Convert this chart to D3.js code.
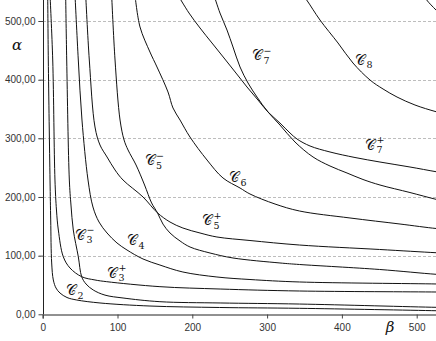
<!DOCTYPE html>
<html><head><meta charset="utf-8">
<script src="https://cdn.jsdelivr.net/npm/d3@7"></script>
<style>
html,body{margin:0;padding:0;background:#fff;}
svg{display:block;}
</style></head>
<body>
<script>
// ---- data (β, α) ----
const xTicks = [0, 100, 200, 300, 400, 500];
const yTicks = [0, 100, 200, 300, 400, 500];

const c2 = [[6.7,544],[7.5,433.5],[9.8,228.9],[10.7,160.8],[12.0,87.5],[14.2,58.5],[17.8,44.8],[23.1,36.3],[32.5,28.6],[45.5,24.4],[76.6,19.3],[143.4,14.1],[236.3,11.6],[343.3,10.2],[525.8,6.1],[544.6,5.6]];
const c3p = [[9.8,544],[13.4,433.5],[16.4,228.9],[18.4,177.8],[20.9,143.7],[27.5,98.2],[36.5,78.9],[52.1,64.1],[69.9,58.5],[85.6,55.6],[156.7,47.1],[237.2,43.1],[343.3,39.7],[525.8,38.0],[544.6,37.7]];
const c3m = [[30.7,544],[32.1,433.5],[35.6,228.9],[37.8,186.3],[40.9,143.7],[47.6,98.2],[52.1,64.1],[57.9,51.7],[67.6,41.4],[83.3,32.7],[107.4,27.8],[156.7,21.5],[237.2,19.3],[343.3,17.5],[525.8,11.9],[544.6,11.6]];
const c4 = [[43.2,544],[47.6,433.5],[52.5,331.2],[60.6,228.9],[67.2,182.9],[75.3,157.3],[86.0,138.6],[99.3,121.6],[112.7,109.6],[134.1,94.3],[156.7,84.0],[187.4,72.1],[232.9,63.6],[277.1,59.3],[343.3,55.1],[525.8,51.7],[544.6,51.1]];
const c5p = [[57.5,544],[62.3,433.5],[69.9,319.3],[76.6,288.6],[86.0,268.2],[96.7,246.0],[107.4,228.9],[134.1,200.0],[153.5,172.9],[170.2,157.3],[187.4,147.1],[210.3,138.6],[232.9,131.8],[277.1,125.8],[343.3,118.1],[450.3,110.5],[525.8,105.0],[544.6,104.0]];
const c5m = [[92.2,544],[96.7,433.5],[103.4,331.2],[108.8,297.1],[114.1,280.1],[124.8,254.5],[136.2,220.4],[145.6,189.8],[153.5,172.9],[160.8,153.8],[170.2,138.6],[183.6,125.0],[197.0,114.7],[223.7,104.5],[254.4,96.0],[317.2,87.5],[343.3,84.9],[450.3,76.4],[525.8,68.2],[544.6,67.0]];
const c6 = [[123.4,544],[130.1,489.8],[143.4,447.1],[152.8,421.6],[167.5,379.0],[174.2,351.7],[183.6,331.2],[196.9,302.2],[219.7,263.0],[241.0,232.4],[263.8,215.3],[277.1,205.1],[310.6,188.0],[343.3,176.1],[410.8,164.2],[477.7,153.9],[525.8,146.3],[544.6,144.6]];
const c7p = [[180.9,544],[195.6,513.6],[210.3,488.1],[226.3,462.5],[242.4,436.9],[258.4,411.3],[273.1,387.5],[287.8,365.3],[301.2,344.9],[317.2,326.1],[330.6,309.1],[340.0,298.8],[357.4,286.9],[384.1,276.7],[417.5,267.3],[450.9,259.6],[491.0,251.1],[525.8,243.1],[544.6,239.2]];
const c7m = [[229.0,544],[237.0,513.6],[246.4,484.6],[254.4,455.7],[263.8,421.6],[274.5,394.3],[286.5,370.4],[301.2,344.9],[317.2,322.7],[337.3,293.7],[361.4,268.2],[384.1,252.8],[406.8,240.9],[428.2,229.8],[450.9,220.4],[491.0,207.6],[525.8,196.0],[544.6,190.6]];
const c8 = [[346.7,546],[352.9,535.8],[370.7,501.7],[394.8,462.5],[414.8,428.4],[437.6,399.4],[455.0,384.1],[473.7,370.4],[497.7,356.8],[525.8,345.4],[544.6,339.7]];
const c9 = [[509.8,544],[513.4,535.8],[525.8,518.7],[537.8,503.4]];

const curves = [c2, c3p, c3m, c4, c5p, c5m, c6, c7p, c7m, c8, c9];

// curve labels: name, subscript, superscript, anchor (β, α)
const labelNames = ["2", "3", "3", "4", "5", "5", "6", "7", "7", "8"];
const labelSups  = ["", "\u2212", "+", "", "\u2212", "+", "", "\u2212", "+", ""];
const labelAt    = [[31.1,32.9],[43.2,126.7],[86.0,61.9],[112.7,118.1],[136.2,254.5],[212.9,151.9],[249.1,225.0],[279.9,433.5],[430.9,280.1],[417.5,425.0]];

// ---- drawing ----
const W = 436, H = 341;
const svg = d3.select("body").append("svg").attr("width", W).attr("height", H);
const x = d3.scaleLinear().domain([0, 525.8]).range([42.7, 436]);
const y = d3.scaleLinear().domain([0, 535.8]).range([314.3, 0]);

const loc = d3.formatLocale({decimal: ",", thousands: ".", grouping: [3], currency: ["", ""]});
const fy = loc.format(".2f");

// gridlines
svg.append("g").selectAll("line").data(yTicks.filter(d => d > 0)).join("line")
  .attr("x1", 38).attr("x2", W)
  .attr("y1", d => Math.round(y(d)) + 0.5).attr("y2", d => Math.round(y(d)) + 0.5)
  .attr("stroke", "#bdbdbd").attr("stroke-width", 1).attr("stroke-dasharray", "3,2");

// axes
const yAxis = svg.append("g").attr("transform", "translate(" + (Math.round(x(0)) + 0.5) + ",0)")
  .call(d3.axisLeft(y).tickValues(yTicks).tickFormat(fy).tickSize(5).tickPadding(3));
const xAxis = svg.append("g").attr("transform", "translate(0," + (Math.round(y(0)) + 0.5) + ")")
  .call(d3.axisBottom(x).tickValues(xTicks).tickFormat(d3.format("d")).tickSize(4).tickPadding(5));
[yAxis, xAxis].forEach(g => {
  g.select(".domain").attr("stroke", "#222");
  g.selectAll(".tick line").attr("stroke", "#444");
  g.selectAll("text").attr("font-family", "Arial, 'Liberation Sans', sans-serif")
    .attr("font-size", 10).attr("fill", "#333");
});
yAxis.select(".domain").attr("d", "M-0,0V" + y(0));

// clip
svg.append("clipPath").attr("id", "clip").append("rect")
  .attr("x", x(0)).attr("y", 0).attr("width", W - x(0)).attr("height", y(0));

const line = d3.line().x(d => x(d[0])).y(d => y(d[1])).curve(d3.curveCatmullRom.alpha(0.5));
svg.append("g").attr("clip-path", "url(#clip)").selectAll("path").data(curves).join("path")
  .attr("d", line).attr("fill", "none").attr("stroke", "#111").attr("stroke-width", 1);

// axis symbols
svg.append("text").attr("x", 17).attr("y", 50).attr("text-anchor", "middle")
  .attr("font-family", "'DejaVu Serif', 'Liberation Serif', serif").attr("font-style", "italic")
  .attr("font-size", 15).attr("fill", "#111").text("\u03B1");
svg.append("text").attr("x", 390).attr("y", 332).attr("text-anchor", "middle")
  .attr("font-family", "'DejaVu Serif', 'Liberation Serif', serif").attr("font-style", "italic")
  .attr("font-size", 15).attr("fill", "#111").text("\u03B2");

// curve labels
const lg = svg.append("g");
labelNames.forEach((n, i) => {
  const px = x(labelAt[i][0]), py = y(labelAt[i][1]);
  const g = lg.append("g").attr("transform", "translate(" + px + "," + py + ")");
  g.append("text").attr("x", 0).attr("y", 0)
    .attr("font-family", "'DejaVu Sans', 'DejaVu Serif', serif")
    .attr("font-size", 14).attr("fill", "#111").text("\uD835\uDC9E");
  g.append("text").attr("x", 11.5).attr("y", 3.5)
    .attr("font-family", "'DejaVu Serif', 'Liberation Serif', serif")
    .attr("font-size", 9.5).attr("fill", "#111").text(n);
  if (labelSups[i]) {
    g.append("text").attr("x", 11.5).attr("y", -6.5)
      .attr("font-family", "'DejaVu Serif', 'Liberation Serif', serif")
      .attr("font-size", 9.5).attr("fill", "#111").text(labelSups[i]);
  }
});
</script>
</body></html>
